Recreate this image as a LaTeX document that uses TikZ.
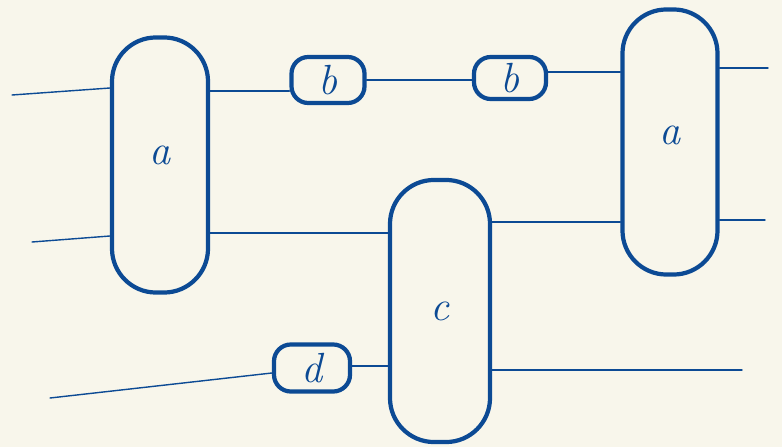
\documentclass[tikz,border=0pt]{standalone}
\usepackage{tikz}
\usetikzlibrary{positioning}
\definecolor{Ink}{HTML}{0C4A94}
\definecolor{Paper}{HTML}{F8F6EB}
\tikzset{
  tallbox/.style={draw=Ink,line width=3pt,rounded corners=1.1cm,fill=Paper,text=Ink,font=\fontsize{30}{36}\selectfont\itshape},
  smallbox/.style={draw=Ink,line width=3pt,rounded corners=0.42cm,fill=Paper,text=Ink,font=\fontsize{30}{36}\selectfont\itshape},
  wire/.style={draw=Ink,line width=1pt,line cap=round}
}

\begin{document}
\begin{tikzpicture}[x=0.025cm,y=-0.025cm]
  \fill[Paper] (0,0) rectangle (782,447);
  \useasboundingbox (0,0) rectangle (782,447);
  % boxes
  \node[tallbox,minimum width=2.4cm,minimum height=6.375cm] (aL) at (160,165) {\raisebox{14pt}{a}};
  \node[smallbox,minimum width=1.825cm,minimum height=1.15cm] (b1) at (328,80) {b};
  \node[smallbox,minimum width=1.8cm,minimum height=1.05cm] (b2) at (510,78) {b};
  \node[tallbox,minimum width=2.375cm,minimum height=6.625cm] (aR) at (670,142) {\raisebox{10pt}{a}};
  \node[tallbox,minimum width=2.5cm,minimum height=6.55cm] (c) at (440,311) {c};
  \node[smallbox,minimum width=1.9cm,minimum height=1.175cm] (d) at (312,368) {d};
  % free ends
  \coordinate (inA) at (12,95);
  \coordinate (inB) at (32,242);
  \coordinate (inD) at (50,398);
  \coordinate (outA) at (768,68);
  \coordinate (outB) at (765,220);
  \coordinate (outC) at (742,370);
  % wires
  \draw[wire] (inA) -- (aL.west |- 0,88);
  \draw[wire] (aL.east |- 0,91) -- (b1.west |- 0,91);
  \draw[wire] (b1.east |- 0,80) -- (b2.west |- 0,80);
  \draw[wire] (b2.east |- 0,72) -- (aR.west |- 0,72);
  \draw[wire] (aR.east |- outA) -- (outA);
  \draw[wire] (inB) -- (aL.west |- 0,236);
  \draw[wire] (aL.east |- 0,233) -- (c.west |- 0,233);
  \draw[wire] (c.east |- 0,222) -- (aR.west |- 0,222);
  \draw[wire] (aR.east |- outB) -- (outB);
  \draw[wire] (inD) -- (d.west |- 0,373);
  \draw[wire] (d.east |- 0,366) -- (c.west |- 0,366);
  \draw[wire] (c.east |- outC) -- (outC);
\end{tikzpicture}
\end{document}
